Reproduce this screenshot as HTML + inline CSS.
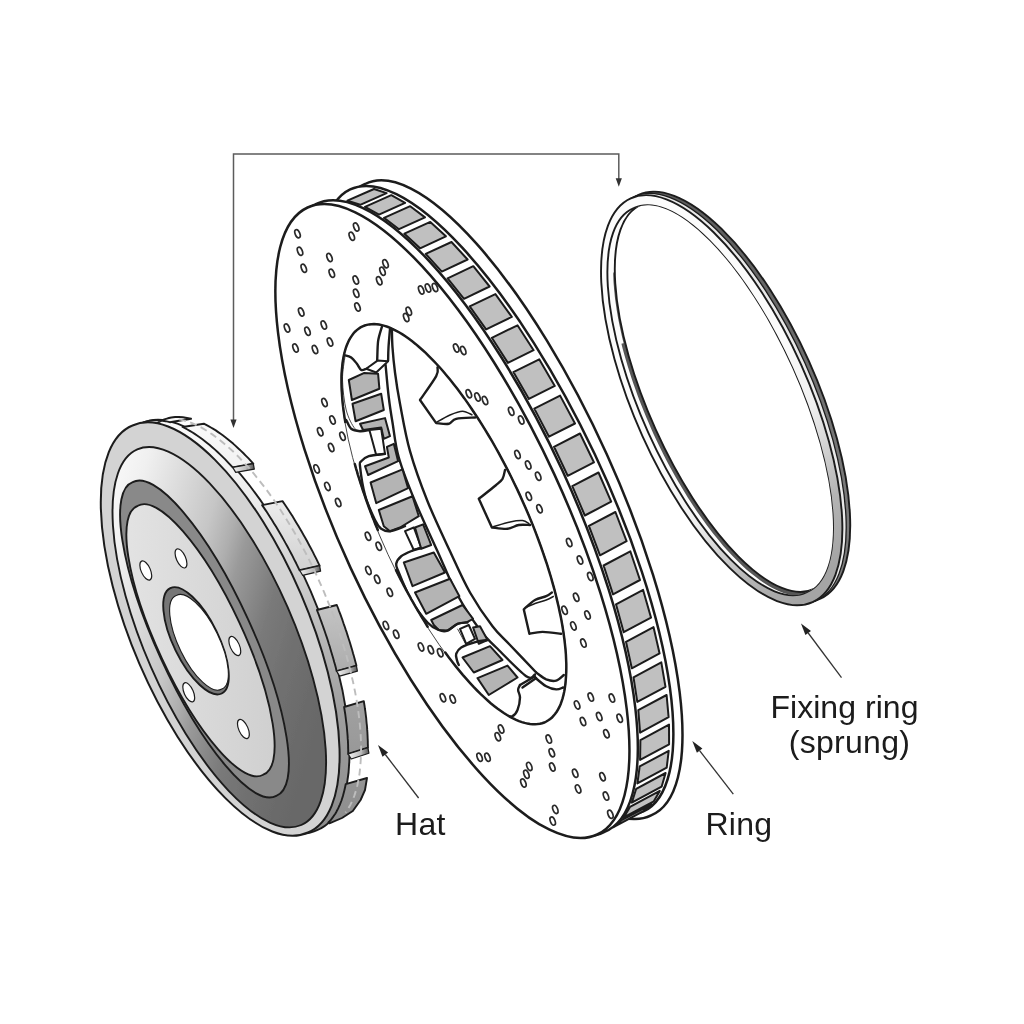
<!DOCTYPE html>
<html><head><meta charset="utf-8"><title>Brake disc assembly</title>
<style>
html,body{margin:0;padding:0;background:#fff;}
body{width:1024px;height:1024px;overflow:hidden;position:relative;font-family:"Liberation Sans",Arial,sans-serif;}
svg{position:absolute;left:0;top:0;display:block}
.lbl{font-family:"Liberation Sans",Arial,sans-serif;font-size:32px;letter-spacing:0.3px;fill:#1a1a1a}
</style></head><body>
<svg width="1024" height="1024" viewBox="0 0 1024 1024">
<defs>
<linearGradient id="cone" gradientUnits="userSpaceOnUse" x1="125" y1="460" x2="375" y2="535">
<stop offset="0" stop-color="#f6f6f6"/><stop offset="0.08" stop-color="#f0f0f0"/><stop offset="0.375" stop-color="#c6c6c6"/><stop offset="0.47" stop-color="#aeaeae"/><stop offset="0.53" stop-color="#9a9a9a"/><stop offset="0.69" stop-color="#7a7a7a"/><stop offset="0.82" stop-color="#707070"/><stop offset="1" stop-color="#686868"/></linearGradient>
<linearGradient id="face" gradientUnits="userSpaceOnUse" x1="130" y1="0" x2="280" y2="0">
<stop offset="0" stop-color="#e2e2e2"/><stop offset="1" stop-color="#cfcfcf"/></linearGradient>
<linearGradient id="rimside" gradientUnits="userSpaceOnUse" x1="0" y1="420" x2="0" y2="830">
<stop offset="0" stop-color="#fafafa"/><stop offset="0.2" stop-color="#ececec"/><stop offset="0.45" stop-color="#c4c4c4"/><stop offset="0.7" stop-color="#a0a0a0"/><stop offset="1" stop-color="#8c8c8c"/></linearGradient>
<linearGradient id="endf" gradientUnits="objectBoundingBox" x1="0" y1="0" x2="1" y2="0"><stop offset="0" stop-color="#f2f2f2"/><stop offset="0.6" stop-color="#bdbdbd"/><stop offset="1" stop-color="#555"/></linearGradient>
</defs>
<rect width="1024" height="1024" fill="#fff"/>
<filter id="soft" x="0" y="0" width="1024" height="1024" filterUnits="userSpaceOnUse"><feGaussianBlur stdDeviation="0.45"/></filter>
<g filter="url(#soft)">

<path d="M233.5,421 V154 H618.8 V180" fill="none" stroke="#5c5c5c" stroke-width="1.5"/>
<path d="M233.5,428 l-3.1,-8.5 h6.2z M618.8,186.8 l-3.1,-8.5 h6.2z" fill="#333"/>
<path d="M317.1,830.2 A221.6,87.3 66.7 1 1 141.8,423.2 A221.6,87.3 66.7 1 1 317.1,830.2Z" fill="url(#rimside)" stroke="#1c1c1c" stroke-width="1.9"/>
<path d="M113.2,468.8 L114.4,463.3 L115.7,458.2 L117.2,453.4 L118.9,448.8 L120.9,444.6 L123.0,440.7 L125.3,437.1 L127.7,433.9 L130.4,431.0 L133.2,428.4 L136.2,426.2 L139.4,424.3 L142.7,422.8 L146.2,421.6 L149.8,420.8 L153.5,420.4 L157.4,420.3 L161.4,420.5 L165.6,421.2 L169.8,422.2 L191.1,418.8 L186.9,417.9 L182.9,417.2 L178.9,417.0 L175.1,417.0 L171.3,417.5 L167.8,418.3 L164.3,419.4 L161.1,420.9 L157.9,422.8 L155.0,425.0 L152.2,427.5 L149.6,430.4 L147.1,433.6 L144.9,437.2 L142.8,441.0 L140.9,445.2 L139.2,449.7 L137.7,454.5 L136.3,459.6 L135.2,464.9Z" fill="url(#rimside)" stroke="#1c1c1c" stroke-width="1.9" stroke-linejoin="round"/>
<path d="M182.6,427.0 L185.0,428.2 L187.4,429.5 L189.8,430.9 L192.2,432.3 L194.7,433.9 L197.1,435.5 L199.6,437.2 L202.1,439.0 L204.6,440.9 L207.1,442.9 L209.7,445.0 L212.2,447.2 L214.7,449.4 L217.3,451.7 L219.8,454.1 L222.4,456.6 L225.0,459.2 L227.5,461.9 L230.1,464.6 L232.7,467.4 L253.3,463.7 L250.8,460.9 L248.3,458.2 L245.7,455.6 L243.2,453.0 L240.7,450.6 L238.1,448.2 L235.6,445.9 L233.1,443.6 L230.6,441.5 L228.1,439.4 L225.6,437.5 L223.1,435.6 L220.6,433.8 L218.2,432.1 L215.8,430.4 L213.3,428.9 L210.9,427.5 L208.5,426.1 L206.2,424.9 L203.8,423.7Z" fill="url(#rimside)" stroke="#1c1c1c" stroke-width="1.9" stroke-linejoin="round"/>
<path d="M253.3,463.7 L254.3,469.2 L235.7,472.4 L232.7,467.4Z" fill="url(#endf)" stroke="#1c1c1c" stroke-width="1.2" stroke-linejoin="round"/>
<path d="M262.1,505.1 L264.2,508.1 L266.2,511.1 L268.1,514.1 L270.1,517.2 L272.1,520.3 L274.0,523.4 L276.0,526.6 L277.9,529.8 L279.8,533.0 L281.7,536.3 L283.6,539.6 L285.4,542.9 L287.3,546.2 L289.1,549.6 L290.9,553.0 L292.7,556.4 L294.4,559.8 L296.2,563.3 L297.9,566.8 L299.6,570.3 L319.6,565.7 L317.9,562.2 L316.2,558.7 L314.5,555.3 L312.8,551.9 L311.0,548.5 L309.2,545.2 L307.4,541.8 L305.6,538.5 L303.7,535.2 L301.9,532.0 L300.0,528.7 L298.1,525.5 L296.2,522.4 L294.3,519.2 L292.4,516.1 L290.4,513.0 L288.5,510.0 L286.5,507.0 L284.5,504.0 L282.5,501.1Z" fill="url(#rimside)" stroke="#1c1c1c" stroke-width="1.9" stroke-linejoin="round"/>
<path d="M319.6,565.7 L320.6,571.2 L302.6,575.3 L299.6,570.3Z" fill="url(#endf)" stroke="#1c1c1c" stroke-width="1.2" stroke-linejoin="round"/>
<path d="M316.9,610.0 L318.1,613.0 L319.3,616.1 L320.4,619.2 L321.5,622.2 L322.6,625.3 L323.7,628.4 L324.8,631.5 L325.8,634.5 L326.9,637.6 L327.9,640.7 L328.8,643.8 L329.8,646.8 L330.7,649.9 L331.6,652.9 L332.5,656.0 L333.4,659.0 L334.2,662.1 L335.1,665.1 L335.9,668.1 L336.6,671.1 L356.4,665.6 L355.6,662.6 L354.8,659.6 L354.0,656.6 L353.1,653.6 L352.3,650.6 L351.4,647.6 L350.5,644.5 L349.6,641.5 L348.6,638.5 L347.6,635.4 L346.7,632.4 L345.6,629.4 L344.6,626.3 L343.5,623.3 L342.5,620.2 L341.4,617.2 L340.3,614.1 L339.1,611.1 L338.0,608.0 L336.8,605.0Z" fill="url(#rimside)" stroke="#1c1c1c" stroke-width="1.9" stroke-linejoin="round"/>
<path d="M356.4,665.6 L357.4,671.1 L339.6,676.1 L336.6,671.1Z" fill="url(#endf)" stroke="#1c1c1c" stroke-width="1.2" stroke-linejoin="round"/>
<path d="M344.1,707.0 L344.5,709.5 L344.9,712.0 L345.3,714.5 L345.6,716.9 L345.9,719.4 L346.2,721.8 L346.5,724.2 L346.8,726.6 L347.0,729.0 L347.2,731.4 L347.4,733.7 L347.6,736.1 L347.7,738.4 L347.9,740.7 L348.0,742.9 L348.1,745.2 L348.1,747.4 L348.2,749.6 L348.2,751.8 L348.2,754.0 L367.9,747.7 L367.9,745.5 L367.8,743.4 L367.8,741.2 L367.7,739.0 L367.6,736.7 L367.5,734.5 L367.4,732.2 L367.2,729.9 L367.1,727.6 L366.9,725.3 L366.6,723.0 L366.4,720.6 L366.2,718.2 L365.9,715.8 L365.6,713.4 L365.3,711.0 L364.9,708.5 L364.6,706.1 L364.2,703.6 L363.8,701.1Z" fill="url(#rimside)" stroke="#1c1c1c" stroke-width="1.9" stroke-linejoin="round"/>
<path d="M367.9,747.7 L368.9,753.2 L351.2,759.0 L348.2,754.0Z" fill="url(#endf)" stroke="#1c1c1c" stroke-width="1.2" stroke-linejoin="round"/>
<path d="M345.7,784.2 L345.2,786.7 L344.7,789.1 L344.1,791.5 L343.5,793.8 L342.9,796.1 L342.2,798.3 L341.5,800.5 L340.7,802.5 L339.9,804.6 L339.0,806.5 L338.2,808.4 L337.2,810.2 L336.3,812.0 L335.3,813.7 L334.2,815.3 L333.1,816.9 L332.0,818.4 L330.9,819.8 L329.7,821.1 L328.4,822.4 L329.4,823.4 L342.0,818.0 L352.8,811.0 L360.6,800.0 L365.0,790.0 L367.0,778.0Z" fill="url(#rimside)" stroke="#1c1c1c" stroke-width="1.9" stroke-linejoin="round"/>
<path d="M179.1,419.4 L183.5,420.3 L188.1,421.7 L192.7,423.4 L197.5,425.6 L202.4,428.1 L207.3,431.1 L212.3,434.4 L217.4,438.1 L222.5,442.2 L227.7,446.6 L232.9,451.3 L238.1,456.4 L243.3,461.9 L248.6,467.6 L253.8,473.7 L259.0,480.1 L264.2,486.7 L269.3,493.6 L274.4,500.8 L279.4,508.2 L284.3,515.8 L289.2,523.7 L294.0,531.7 L298.7,540.0 L303.2,548.4 L307.7,556.9 L312.0,565.6 L316.2,574.4 L320.2,583.3 L324.1,592.2 L327.8,601.3 L331.4,610.3 L334.8,619.4 L338.0,628.5 L341.0,637.6 L343.8,646.7 L346.5,655.7 L348.9,664.7 L351.1,673.5 L353.1,682.3 L354.9,691.0 L356.5,699.5 L357.8,707.8 L358.9,716.0 L359.8,724.1 L360.5,731.9 L360.9,739.5 L361.1,746.9 L361.0,754.0 L360.7,760.8 L360.2,767.4 L359.5,773.8 L358.5,779.8 L357.3,785.5 L355.9,790.8 L354.3,795.9 L352.4,800.6 L350.3,805.0 L348.0,809.0 L345.5,812.6" fill="none" stroke="#bdbdbd" stroke-width="1.9" stroke-dasharray="7 4.5"/>
<path d="M307.9,832.5 A221.6,87.3 66.7 1 1 132.5,425.5 A221.6,87.3 66.7 1 1 307.9,832.5Z" fill="#d3d3d3" stroke="#1c1c1c" stroke-width="2.0"/>
<path d="M301.3,825.0 A204.9,74.6 66.4 1 1 137.3,449.4 A204.9,74.6 66.4 1 1 301.3,825.0Z" fill="url(#cone)" stroke="#1c1c1c" stroke-width="1.9"/>
<path d="M276.3,795.8 A172.5,46.8 65.4 1 1 132.7,482.2 A172.5,46.8 65.4 1 1 276.3,795.8Z" fill="#898989" stroke="#1c1c1c" stroke-width="1.9"/>
<path d="M263.2,774.7 A148.4,41.6 65 1 1 137.8,505.8 A148.4,41.6 65 1 1 263.2,774.7Z" fill="url(#face)" stroke="#1c1c1c" stroke-width="1.9"/>
<path d="M221.7,693.5 A58.6,22.6 64 1 1 170.3,588.1 A58.6,22.6 64 1 1 221.7,693.5Z" fill="#767676" stroke="#1c1c1c" stroke-width="1.9"/>
<path d="M221.8,689.0 A52.0,19.5 64 1 1 176.2,595.6 A52.0,19.5 64 1 1 221.8,689.0Z" fill="#fff" stroke="#1c1c1c" stroke-width="1.1"/>
<ellipse cx="145.8" cy="570.5" rx="10.3" ry="4.6" transform="rotate(66 145.8 570.5)" fill="#fff" stroke="#1c1c1c" stroke-width="1.2"/>
<ellipse cx="181" cy="558.4" rx="10.3" ry="4.6" transform="rotate(66 181 558.4)" fill="#fff" stroke="#1c1c1c" stroke-width="1.2"/>
<ellipse cx="234.8" cy="646" rx="10.3" ry="4.6" transform="rotate(66 234.8 646)" fill="#fff" stroke="#1c1c1c" stroke-width="1.2"/>
<ellipse cx="188.75" cy="692.3" rx="10.3" ry="4.6" transform="rotate(66 188.75 692.3)" fill="#fff" stroke="#1c1c1c" stroke-width="1.2"/>
<ellipse cx="243.4" cy="729" rx="10.3" ry="4.6" transform="rotate(66 243.4 729)" fill="#fff" stroke="#1c1c1c" stroke-width="1.2"/>
<path d="M651.1,815.4 A346.6,107.4 65.64 1 1 365.1,184.0 A346.6,107.4 65.64 1 1 651.1,815.4Z" fill="#fff" stroke="#1c1c1c" stroke-width="2.5"/>
<path d="M643.8,811.2 A343.8,108.0 64.73 1 1 350.2,189.4 A343.8,108.0 64.73 1 1 643.8,811.2Z" fill="#fff" stroke="#1c1c1c" stroke-width="2.5"/>
<path d="M347.4,200.7 L374.0,189.0 L386.6,193.1 L360.2,204.8Z M365.0,206.8 L391.3,195.2 L405.1,202.9 L379.0,214.6Z M384.0,217.9 L410.2,206.2 L425.0,217.4 L399.0,229.2Z M404.4,233.7 L430.3,221.9 L445.9,236.3 L420.1,248.3Z M425.7,253.9 L451.5,242.0 L467.6,259.5 L441.8,271.6Z M447.6,278.3 L473.3,266.2 L489.6,286.5 L464.0,298.8Z M469.7,306.4 L495.4,294.1 L511.8,316.9 L486.1,329.4Z M491.8,337.8 L517.5,325.3 L533.6,350.2 L507.9,362.9Z M513.4,372.1 L539.2,359.3 L554.8,385.9 L528.9,398.9Z M534.3,408.6 L560.1,395.6 L575.0,423.5 L549.0,436.7Z M554.0,446.8 L580.0,433.5 L593.9,462.3 L567.7,475.8Z M572.3,486.1 L598.5,472.5 L611.2,501.7 L584.8,515.5Z M588.9,525.9 L615.4,512.0 L626.6,541.2 L600.0,555.3Z M603.6,565.5 L630.3,551.3 L640.0,580.0 L613.0,594.4Z M616.0,604.3 L643.1,589.9 L651.0,617.6 L623.7,632.2Z M626.0,641.8 L653.5,627.1 L659.6,653.4 L631.8,668.3Z M633.5,677.3 L661.3,662.3 L665.5,686.8 L637.3,701.9Z M638.3,710.2 L666.6,695.0 L668.6,717.2 L640.1,732.6Z M640.4,740.1 L669.0,724.6 L669.1,744.3 L640.1,759.9Z M639.7,766.4 L668.7,750.8 L666.7,767.6 L637.4,783.4Z M636.2,788.8 L665.6,773.0 L661.6,786.7 L631.8,802.6Z M630.0,806.9 L659.8,790.9 L653.8,801.3 L623.7,817.4Z M621.2,820.4 L651.4,804.4 L643.5,811.2 L613.0,827.3Z" fill="#c0c0c0" stroke="#1c1c1c" stroke-width="2.0" stroke-linejoin="round"/>
<path d="M604.5,831.9 A345.5,111.5 65.2594 1 1 315.3,204.4 A345.5,111.5 65.2594 1 1 604.5,831.9Z" fill="#fff" stroke="#1c1c1c" stroke-width="2.5"/>
<path d="M597.2,834.5 A345.3,112.1 65.2 1 1 307.6,207.5 A345.3,112.1 65.2 1 1 597.2,834.5Z" fill="#fff" stroke="#1c1c1c" stroke-width="2.5"/>
<ellipse cx="297.5" cy="233.8" rx="4.3" ry="2.3" transform="rotate(68 297.5 233.8)" fill="#fff" stroke="#2a2a2a" stroke-width="1.7"/>
<ellipse cx="300.0" cy="251.2" rx="4.3" ry="2.3" transform="rotate(68 300.0 251.2)" fill="#fff" stroke="#2a2a2a" stroke-width="1.7"/>
<ellipse cx="303.8" cy="268.2" rx="4.3" ry="2.3" transform="rotate(68 303.8 268.2)" fill="#fff" stroke="#2a2a2a" stroke-width="1.7"/>
<ellipse cx="329.5" cy="257.5" rx="4.3" ry="2.3" transform="rotate(68 329.5 257.5)" fill="#fff" stroke="#2a2a2a" stroke-width="1.7"/>
<ellipse cx="331.8" cy="273.2" rx="4.3" ry="2.3" transform="rotate(68 331.8 273.2)" fill="#fff" stroke="#2a2a2a" stroke-width="1.7"/>
<ellipse cx="356.2" cy="227.0" rx="4.3" ry="2.3" transform="rotate(68 356.2 227.0)" fill="#fff" stroke="#2a2a2a" stroke-width="1.7"/>
<ellipse cx="351.8" cy="236.2" rx="4.3" ry="2.3" transform="rotate(68 351.8 236.2)" fill="#fff" stroke="#2a2a2a" stroke-width="1.7"/>
<ellipse cx="355.8" cy="280.0" rx="4.3" ry="2.3" transform="rotate(68 355.8 280.0)" fill="#fff" stroke="#2a2a2a" stroke-width="1.7"/>
<ellipse cx="356.2" cy="293.2" rx="4.3" ry="2.3" transform="rotate(68 356.2 293.2)" fill="#fff" stroke="#2a2a2a" stroke-width="1.7"/>
<ellipse cx="357.5" cy="307.0" rx="4.3" ry="2.3" transform="rotate(68 357.5 307.0)" fill="#fff" stroke="#2a2a2a" stroke-width="1.7"/>
<ellipse cx="385.5" cy="263.8" rx="4.3" ry="2.3" transform="rotate(68 385.5 263.8)" fill="#fff" stroke="#2a2a2a" stroke-width="1.7"/>
<ellipse cx="382.5" cy="271.2" rx="4.3" ry="2.3" transform="rotate(68 382.5 271.2)" fill="#fff" stroke="#2a2a2a" stroke-width="1.7"/>
<ellipse cx="379.2" cy="280.8" rx="4.3" ry="2.3" transform="rotate(68 379.2 280.8)" fill="#fff" stroke="#2a2a2a" stroke-width="1.7"/>
<ellipse cx="421.2" cy="290.0" rx="4.3" ry="2.3" transform="rotate(68 421.2 290.0)" fill="#fff" stroke="#2a2a2a" stroke-width="1.7"/>
<ellipse cx="428.0" cy="288.0" rx="4.3" ry="2.3" transform="rotate(68 428.0 288.0)" fill="#fff" stroke="#2a2a2a" stroke-width="1.7"/>
<ellipse cx="435.0" cy="287.5" rx="4.3" ry="2.3" transform="rotate(68 435.0 287.5)" fill="#fff" stroke="#2a2a2a" stroke-width="1.7"/>
<ellipse cx="408.8" cy="311.2" rx="4.3" ry="2.3" transform="rotate(68 408.8 311.2)" fill="#fff" stroke="#2a2a2a" stroke-width="1.7"/>
<ellipse cx="406.2" cy="317.5" rx="4.3" ry="2.3" transform="rotate(68 406.2 317.5)" fill="#fff" stroke="#2a2a2a" stroke-width="1.7"/>
<ellipse cx="301.2" cy="312.0" rx="4.3" ry="2.3" transform="rotate(68 301.2 312.0)" fill="#fff" stroke="#2a2a2a" stroke-width="1.7"/>
<ellipse cx="287.0" cy="328.0" rx="4.3" ry="2.3" transform="rotate(68 287.0 328.0)" fill="#fff" stroke="#2a2a2a" stroke-width="1.7"/>
<ellipse cx="307.5" cy="331.2" rx="4.3" ry="2.3" transform="rotate(68 307.5 331.2)" fill="#fff" stroke="#2a2a2a" stroke-width="1.7"/>
<ellipse cx="323.8" cy="325.0" rx="4.3" ry="2.3" transform="rotate(68 323.8 325.0)" fill="#fff" stroke="#2a2a2a" stroke-width="1.7"/>
<ellipse cx="295.5" cy="348.0" rx="4.3" ry="2.3" transform="rotate(68 295.5 348.0)" fill="#fff" stroke="#2a2a2a" stroke-width="1.7"/>
<ellipse cx="315.0" cy="349.5" rx="4.3" ry="2.3" transform="rotate(68 315.0 349.5)" fill="#fff" stroke="#2a2a2a" stroke-width="1.7"/>
<ellipse cx="330.0" cy="342.0" rx="4.3" ry="2.3" transform="rotate(68 330.0 342.0)" fill="#fff" stroke="#2a2a2a" stroke-width="1.7"/>
<ellipse cx="456.2" cy="348.0" rx="4.3" ry="2.3" transform="rotate(68 456.2 348.0)" fill="#fff" stroke="#2a2a2a" stroke-width="1.7"/>
<ellipse cx="463.2" cy="350.5" rx="4.3" ry="2.3" transform="rotate(68 463.2 350.5)" fill="#fff" stroke="#2a2a2a" stroke-width="1.7"/>
<ellipse cx="468.8" cy="393.8" rx="4.3" ry="2.3" transform="rotate(68 468.8 393.8)" fill="#fff" stroke="#2a2a2a" stroke-width="1.7"/>
<ellipse cx="477.5" cy="397.0" rx="4.3" ry="2.3" transform="rotate(68 477.5 397.0)" fill="#fff" stroke="#2a2a2a" stroke-width="1.7"/>
<ellipse cx="485.0" cy="400.5" rx="4.3" ry="2.3" transform="rotate(68 485.0 400.5)" fill="#fff" stroke="#2a2a2a" stroke-width="1.7"/>
<ellipse cx="511.2" cy="411.2" rx="4.3" ry="2.3" transform="rotate(68 511.2 411.2)" fill="#fff" stroke="#2a2a2a" stroke-width="1.7"/>
<ellipse cx="521.2" cy="420.0" rx="4.3" ry="2.3" transform="rotate(68 521.2 420.0)" fill="#fff" stroke="#2a2a2a" stroke-width="1.7"/>
<ellipse cx="324.5" cy="402.5" rx="4.3" ry="2.3" transform="rotate(68 324.5 402.5)" fill="#fff" stroke="#2a2a2a" stroke-width="1.7"/>
<ellipse cx="332.5" cy="420.0" rx="4.3" ry="2.3" transform="rotate(68 332.5 420.0)" fill="#fff" stroke="#2a2a2a" stroke-width="1.7"/>
<ellipse cx="517.5" cy="454.5" rx="4.3" ry="2.3" transform="rotate(68 517.5 454.5)" fill="#fff" stroke="#2a2a2a" stroke-width="1.7"/>
<ellipse cx="528.2" cy="465.0" rx="4.3" ry="2.3" transform="rotate(68 528.2 465.0)" fill="#fff" stroke="#2a2a2a" stroke-width="1.7"/>
<ellipse cx="538.2" cy="476.2" rx="4.3" ry="2.3" transform="rotate(68 538.2 476.2)" fill="#fff" stroke="#2a2a2a" stroke-width="1.7"/>
<ellipse cx="528.8" cy="496.2" rx="4.3" ry="2.3" transform="rotate(68 528.8 496.2)" fill="#fff" stroke="#2a2a2a" stroke-width="1.7"/>
<ellipse cx="539.5" cy="508.8" rx="4.3" ry="2.3" transform="rotate(68 539.5 508.8)" fill="#fff" stroke="#2a2a2a" stroke-width="1.7"/>
<ellipse cx="569.2" cy="542.5" rx="4.3" ry="2.3" transform="rotate(68 569.2 542.5)" fill="#fff" stroke="#2a2a2a" stroke-width="1.7"/>
<ellipse cx="580.0" cy="560.0" rx="4.3" ry="2.3" transform="rotate(68 580.0 560.0)" fill="#fff" stroke="#2a2a2a" stroke-width="1.7"/>
<ellipse cx="342.5" cy="436.2" rx="4.3" ry="2.3" transform="rotate(68 342.5 436.2)" fill="#fff" stroke="#2a2a2a" stroke-width="1.7"/>
<ellipse cx="331.2" cy="447.5" rx="4.3" ry="2.3" transform="rotate(68 331.2 447.5)" fill="#fff" stroke="#2a2a2a" stroke-width="1.7"/>
<ellipse cx="338.2" cy="502.5" rx="4.3" ry="2.3" transform="rotate(68 338.2 502.5)" fill="#fff" stroke="#2a2a2a" stroke-width="1.7"/>
<ellipse cx="368.0" cy="536.2" rx="4.3" ry="2.3" transform="rotate(68 368.0 536.2)" fill="#fff" stroke="#2a2a2a" stroke-width="1.7"/>
<ellipse cx="378.8" cy="546.2" rx="4.3" ry="2.3" transform="rotate(68 378.8 546.2)" fill="#fff" stroke="#2a2a2a" stroke-width="1.7"/>
<ellipse cx="320.2" cy="431.8" rx="4.3" ry="2.3" transform="rotate(68 320.2 431.8)" fill="#fff" stroke="#2a2a2a" stroke-width="1.7"/>
<ellipse cx="316.6" cy="468.9" rx="4.3" ry="2.3" transform="rotate(68 316.6 468.9)" fill="#fff" stroke="#2a2a2a" stroke-width="1.7"/>
<ellipse cx="327.4" cy="486.4" rx="4.3" ry="2.3" transform="rotate(68 327.4 486.4)" fill="#fff" stroke="#2a2a2a" stroke-width="1.7"/>
<ellipse cx="368.4" cy="570.4" rx="4.3" ry="2.3" transform="rotate(68 368.4 570.4)" fill="#fff" stroke="#2a2a2a" stroke-width="1.7"/>
<ellipse cx="377.2" cy="579.2" rx="4.3" ry="2.3" transform="rotate(68 377.2 579.2)" fill="#fff" stroke="#2a2a2a" stroke-width="1.7"/>
<ellipse cx="389.8" cy="592.2" rx="4.3" ry="2.3" transform="rotate(68 389.8 592.2)" fill="#fff" stroke="#2a2a2a" stroke-width="1.7"/>
<ellipse cx="385.9" cy="625.4" rx="4.3" ry="2.3" transform="rotate(68 385.9 625.4)" fill="#fff" stroke="#2a2a2a" stroke-width="1.7"/>
<ellipse cx="396.2" cy="634.2" rx="4.3" ry="2.3" transform="rotate(68 396.2 634.2)" fill="#fff" stroke="#2a2a2a" stroke-width="1.7"/>
<ellipse cx="421.0" cy="646.9" rx="4.3" ry="2.3" transform="rotate(68 421.0 646.9)" fill="#fff" stroke="#2a2a2a" stroke-width="1.7"/>
<ellipse cx="430.8" cy="649.8" rx="4.3" ry="2.3" transform="rotate(68 430.8 649.8)" fill="#fff" stroke="#2a2a2a" stroke-width="1.7"/>
<ellipse cx="440.2" cy="652.8" rx="4.3" ry="2.3" transform="rotate(68 440.2 652.8)" fill="#fff" stroke="#2a2a2a" stroke-width="1.7"/>
<ellipse cx="442.9" cy="697.7" rx="4.3" ry="2.3" transform="rotate(68 442.9 697.7)" fill="#fff" stroke="#2a2a2a" stroke-width="1.7"/>
<ellipse cx="452.7" cy="699.0" rx="4.3" ry="2.3" transform="rotate(68 452.7 699.0)" fill="#fff" stroke="#2a2a2a" stroke-width="1.7"/>
<ellipse cx="501.1" cy="729.0" rx="4.3" ry="2.3" transform="rotate(68 501.1 729.0)" fill="#fff" stroke="#2a2a2a" stroke-width="1.7"/>
<ellipse cx="497.8" cy="736.8" rx="4.3" ry="2.3" transform="rotate(68 497.8 736.8)" fill="#fff" stroke="#2a2a2a" stroke-width="1.7"/>
<ellipse cx="479.6" cy="757.3" rx="4.3" ry="2.3" transform="rotate(68 479.6 757.3)" fill="#fff" stroke="#2a2a2a" stroke-width="1.7"/>
<ellipse cx="487.5" cy="757.3" rx="4.3" ry="2.3" transform="rotate(68 487.5 757.3)" fill="#fff" stroke="#2a2a2a" stroke-width="1.7"/>
<ellipse cx="577.1" cy="704.9" rx="4.3" ry="2.3" transform="rotate(68 577.1 704.9)" fill="#fff" stroke="#2a2a2a" stroke-width="1.7"/>
<ellipse cx="590.8" cy="697.1" rx="4.3" ry="2.3" transform="rotate(68 590.8 697.1)" fill="#fff" stroke="#2a2a2a" stroke-width="1.7"/>
<ellipse cx="611.9" cy="698.1" rx="4.3" ry="2.3" transform="rotate(68 611.9 698.1)" fill="#fff" stroke="#2a2a2a" stroke-width="1.7"/>
<ellipse cx="583.0" cy="721.5" rx="4.3" ry="2.3" transform="rotate(68 583.0 721.5)" fill="#fff" stroke="#2a2a2a" stroke-width="1.7"/>
<ellipse cx="599.2" cy="716.6" rx="4.3" ry="2.3" transform="rotate(68 599.2 716.6)" fill="#fff" stroke="#2a2a2a" stroke-width="1.7"/>
<ellipse cx="619.7" cy="718.2" rx="4.3" ry="2.3" transform="rotate(68 619.7 718.2)" fill="#fff" stroke="#2a2a2a" stroke-width="1.7"/>
<ellipse cx="606.4" cy="733.8" rx="4.3" ry="2.3" transform="rotate(68 606.4 733.8)" fill="#fff" stroke="#2a2a2a" stroke-width="1.7"/>
<ellipse cx="548.8" cy="739.1" rx="4.3" ry="2.3" transform="rotate(68 548.8 739.1)" fill="#fff" stroke="#2a2a2a" stroke-width="1.7"/>
<ellipse cx="551.8" cy="752.8" rx="4.3" ry="2.3" transform="rotate(68 551.8 752.8)" fill="#fff" stroke="#2a2a2a" stroke-width="1.7"/>
<ellipse cx="552.3" cy="767.0" rx="4.3" ry="2.3" transform="rotate(68 552.3 767.0)" fill="#fff" stroke="#2a2a2a" stroke-width="1.7"/>
<ellipse cx="529.3" cy="766.4" rx="4.3" ry="2.3" transform="rotate(68 529.3 766.4)" fill="#fff" stroke="#2a2a2a" stroke-width="1.7"/>
<ellipse cx="526.4" cy="774.2" rx="4.3" ry="2.3" transform="rotate(68 526.4 774.2)" fill="#fff" stroke="#2a2a2a" stroke-width="1.7"/>
<ellipse cx="523.4" cy="783.0" rx="4.3" ry="2.3" transform="rotate(68 523.4 783.0)" fill="#fff" stroke="#2a2a2a" stroke-width="1.7"/>
<ellipse cx="575.2" cy="773.3" rx="4.3" ry="2.3" transform="rotate(68 575.2 773.3)" fill="#fff" stroke="#2a2a2a" stroke-width="1.7"/>
<ellipse cx="578.1" cy="788.9" rx="4.3" ry="2.3" transform="rotate(68 578.1 788.9)" fill="#fff" stroke="#2a2a2a" stroke-width="1.7"/>
<ellipse cx="602.5" cy="776.8" rx="4.3" ry="2.3" transform="rotate(68 602.5 776.8)" fill="#fff" stroke="#2a2a2a" stroke-width="1.7"/>
<ellipse cx="606.0" cy="796.1" rx="4.3" ry="2.3" transform="rotate(68 606.0 796.1)" fill="#fff" stroke="#2a2a2a" stroke-width="1.7"/>
<ellipse cx="610.4" cy="814.3" rx="4.3" ry="2.3" transform="rotate(68 610.4 814.3)" fill="#fff" stroke="#2a2a2a" stroke-width="1.7"/>
<ellipse cx="555.3" cy="809.4" rx="4.3" ry="2.3" transform="rotate(68 555.3 809.4)" fill="#fff" stroke="#2a2a2a" stroke-width="1.7"/>
<ellipse cx="552.7" cy="821.1" rx="4.3" ry="2.3" transform="rotate(68 552.7 821.1)" fill="#fff" stroke="#2a2a2a" stroke-width="1.7"/>
<ellipse cx="590.3" cy="576.6" rx="4.3" ry="2.3" transform="rotate(68 590.3 576.6)" fill="#fff" stroke="#2a2a2a" stroke-width="1.7"/>
<ellipse cx="576.2" cy="597.2" rx="4.3" ry="2.3" transform="rotate(68 576.2 597.2)" fill="#fff" stroke="#2a2a2a" stroke-width="1.7"/>
<ellipse cx="564.6" cy="610.3" rx="4.3" ry="2.3" transform="rotate(68 564.6 610.3)" fill="#fff" stroke="#2a2a2a" stroke-width="1.7"/>
<ellipse cx="587.5" cy="615.0" rx="4.3" ry="2.3" transform="rotate(68 587.5 615.0)" fill="#fff" stroke="#2a2a2a" stroke-width="1.7"/>
<ellipse cx="573.4" cy="625.9" rx="4.3" ry="2.3" transform="rotate(68 573.4 625.9)" fill="#fff" stroke="#2a2a2a" stroke-width="1.7"/>
<ellipse cx="583.4" cy="643.1" rx="4.3" ry="2.3" transform="rotate(68 583.4 643.1)" fill="#fff" stroke="#2a2a2a" stroke-width="1.7"/>
<defs><clipPath id="cDh"><path d="M545.3,722.0 A217.9,72.1 65.2 1 1 362.5,326.4 A217.9,72.1 65.2 1 1 545.3,722.0Z"/></clipPath></defs>
<path d="M545.3,722.0 A217.9,72.1 65.2 1 1 362.5,326.4 A217.9,72.1 65.2 1 1 545.3,722.0Z" fill="#fff" stroke="none"/>
<g clip-path="url(#cDh)">
<path d="M385.6,365.0 C386.1,370.4 387.6,387.9 388.8,397.5 C389.9,407.1 390.8,412.5 392.5,422.5 C394.2,432.5 395.0,444.4 398.8,457.5 C402.5,470.6 408.5,485.6 415.0,501.2 C421.5,516.9 430.4,535.6 437.5,551.2 C444.6,566.9 450.4,581.9 457.5,595.0 C464.6,608.1 473.5,621.2 480.0,630.0 C486.5,638.8 488.5,639.8 496.2,647.5 C504.0,655.2 519.8,671.8 526.2,676.2 C532.7,680.7 533.5,674.7 535.0,674.4" fill="none" stroke="#1c1c1c" stroke-width="2.4" stroke-linecap="round" stroke-linejoin="round"/>
<path d="M391.9,330.0 C392.0,332.9 392.0,340.4 392.5,347.5 C393.0,354.6 393.8,363.1 395.0,372.5 C396.2,381.9 397.5,390.6 400.0,403.8 C402.5,416.9 405.4,435.0 410.0,451.2 C414.6,467.5 420.8,484.6 427.5,501.2 C434.2,517.9 442.9,536.0 450.0,551.2 C457.1,566.5 462.9,580.0 470.0,592.5 C477.1,605.0 485.8,617.5 492.5,626.2 C499.2,635.0 502.7,637.3 510.0,645.0 C517.3,652.7 531.9,667.9 536.2,672.5" fill="none" stroke="#1c1c1c" stroke-width="2.4" stroke-linecap="round" stroke-linejoin="round"/>
<path d="M536.2,672.5 C537.9,673.6 542.9,678.0 546.2,679.4 C549.6,680.7 553.3,681.4 556.2,680.6 C559.2,679.9 562.5,675.9 563.8,675.0" fill="none" stroke="#1c1c1c" stroke-width="2.4" stroke-linecap="round" stroke-linejoin="round"/>
<path d="M535.0,677.5 C536.9,679.0 542.7,684.3 546.2,686.2 C549.8,688.2 553.4,689.2 556.2,689.4 C559.1,689.6 562.0,687.8 563.1,687.5" fill="none" stroke="#1c1c1c" stroke-width="2.4" stroke-linecap="round" stroke-linejoin="round"/>
<path d="M520.0,685.0 L535.0,676.2" fill="none" stroke="#1c1c1c" stroke-width="2.4" stroke-linecap="round" stroke-linejoin="round"/>
<path d="M522.5,687.5 L536.2,678.1" fill="none" stroke="#1c1c1c" stroke-width="2.4" stroke-linecap="round" stroke-linejoin="round"/>
<path d="M381.9,326.9 C381.2,329.3 378.9,335.7 378.1,341.2 C377.4,346.8 377.4,356.9 377.2,360.0" fill="none" stroke="#1c1c1c" stroke-width="2.4" stroke-linecap="round" stroke-linejoin="round"/>
<path d="M390.0,328.8 C389.8,331.9 388.8,342.2 388.5,347.5 C388.2,352.8 388.2,358.4 388.1,360.6" fill="none" stroke="#1c1c1c" stroke-width="2.4" stroke-linecap="round" stroke-linejoin="round"/>
<path d="M366.2,368.8 L377.5,360.6 L388.1,361.2 L376.2,372.5Z" fill="#fff" stroke="#1c1c1c" stroke-width="2.0" stroke-linejoin="round"/>
<path d="M348.8,380.0 L363.8,373.1 L378.1,373.8 L379.4,388.8 L351.9,400.0Z" fill="#b4b4b4" stroke="#1c1c1c" stroke-width="2.0" stroke-linejoin="round"/>
<path d="M352.5,403.8 L381.2,393.8 L383.8,410.0 L355.6,421.2Z" fill="#b4b4b4" stroke="#1c1c1c" stroke-width="2.0" stroke-linejoin="round"/>
<path d="M360.0,423.8 L385.0,418.1 L390.0,436.2 L383.8,438.8 L381.2,427.5 L363.1,430.0Z" fill="#b4b4b4" stroke="#1c1c1c" stroke-width="2.0" stroke-linejoin="round"/>
<path d="M343.8,355.0 C345.0,355.4 349.1,356.0 351.2,357.5 C353.4,359.0 355.2,361.7 356.9,363.8 C358.5,365.8 359.7,369.2 361.2,370.0 C362.8,370.8 365.4,369.0 366.2,368.8" fill="none" stroke="#1c1c1c" stroke-width="2.4" stroke-linecap="round" stroke-linejoin="round"/>
<path d="M345.0,356.2 C344.6,360.2 342.3,371.0 342.5,380.0 C342.7,389.0 344.2,401.9 346.2,410.0 C348.3,418.1 352.3,425.4 355.0,428.8 C357.7,432.1 361.2,429.8 362.5,430.0" fill="none" stroke="#333" stroke-width="0.9"/>
<path d="M346.2,420.0 C347.1,421.5 349.0,426.9 351.2,428.8 C353.5,430.6 357.0,431.0 360.0,431.2 C363.0,431.5 367.8,430.2 369.4,430.0" fill="none" stroke="#1c1c1c" stroke-width="2.4" stroke-linecap="round" stroke-linejoin="round"/>
<path d="M369.4,430.0 L381.2,428.8 L385.0,453.8 L376.2,455.0Z" fill="#fff" stroke="#1c1c1c" stroke-width="2.0" stroke-linejoin="round"/>
<path d="M386.9,446.9 L393.8,443.8 L398.1,461.2 L368.1,475.0 L365.0,466.2 L388.8,457.5Z" fill="#b4b4b4" stroke="#1c1c1c" stroke-width="2.0" stroke-linejoin="round"/>
<path d="M370.6,482.5 L402.5,469.4 L408.1,488.1 L376.2,503.1Z" fill="#b4b4b4" stroke="#1c1c1c" stroke-width="2.0" stroke-linejoin="round"/>
<path d="M378.8,510.0 L412.5,496.2 L418.8,516.2 L400.0,527.5 L390.0,531.2 L383.8,526.2Z" fill="#b4b4b4" stroke="#1c1c1c" stroke-width="2.0" stroke-linejoin="round"/>
<path d="M385.0,453.8 C382.3,454.2 372.7,455.0 368.8,456.2 C364.8,457.5 362.7,459.6 361.2,461.2 C359.8,462.9 359.4,460.6 360.0,466.2 C360.6,471.9 362.5,486.0 365.0,495.0 C367.5,504.0 372.3,514.4 375.0,520.0 C377.7,525.6 378.8,526.9 381.2,528.8 C383.8,530.6 386.0,531.7 390.0,531.2 C394.0,530.8 402.5,527.1 405.0,526.2" fill="none" stroke="#1c1c1c" stroke-width="2.4" stroke-linecap="round" stroke-linejoin="round"/>
<path d="M405.0,531.2 L413.8,527.5 L421.2,547.5 L413.8,550.0Z" fill="#fff" stroke="#1c1c1c" stroke-width="2.0" stroke-linejoin="round"/>
<path d="M415.0,527.5 L423.1,524.4 L431.2,545.0 L421.2,548.8Z" fill="#b4b4b4" stroke="#1c1c1c" stroke-width="2.0" stroke-linejoin="round"/>
<path d="M403.8,562.5 L433.8,552.5 L445.0,572.5 L412.5,586.2Z" fill="#b4b4b4" stroke="#1c1c1c" stroke-width="2.0" stroke-linejoin="round"/>
<path d="M415.0,592.5 L450.0,578.8 L459.4,596.2 L426.2,613.8Z" fill="#b4b4b4" stroke="#1c1c1c" stroke-width="2.0" stroke-linejoin="round"/>
<path d="M431.2,620.0 L462.5,605.0 L473.1,618.8 L467.5,621.9 L457.5,623.8 L447.5,630.6 L438.8,630.0 L433.8,625.0Z" fill="#b4b4b4" stroke="#1c1c1c" stroke-width="2.0" stroke-linejoin="round"/>
<path d="M421.2,548.1 C419.8,548.5 415.8,549.3 412.5,550.6 C409.2,552.0 404.0,554.1 401.2,556.2 C398.5,558.4 396.7,561.0 396.2,563.8 C395.8,566.5 396.2,566.5 398.8,572.5 C401.2,578.5 406.5,591.7 411.2,600.0 C416.0,608.3 422.9,617.5 427.5,622.5 C432.1,627.5 435.4,628.6 438.8,630.0 C442.1,631.4 444.4,631.7 447.5,630.6 C450.6,629.6 454.2,625.1 457.5,623.8 C460.8,622.4 465.8,622.7 467.5,622.5" fill="none" stroke="#1c1c1c" stroke-width="2.4" stroke-linecap="round" stroke-linejoin="round"/>
<path d="M457.5,628.8 L466.2,645.0" fill="none" stroke="#333" stroke-width="0.9"/>
<path d="M460.0,628.8 L468.8,625.0 L475.0,638.8 L466.2,643.8Z" fill="#fff" stroke="#1c1c1c" stroke-width="2.0" stroke-linejoin="round"/>
<path d="M473.1,627.5 L480.0,626.2 L487.5,640.0 L478.8,643.8Z" fill="#b4b4b4" stroke="#1c1c1c" stroke-width="2.0" stroke-linejoin="round"/>
<path d="M462.5,657.5 L490.0,646.2 L502.5,660.0 L473.8,672.5Z" fill="#b4b4b4" stroke="#1c1c1c" stroke-width="2.0" stroke-linejoin="round"/>
<path d="M477.5,678.1 L507.5,665.6 L517.5,677.5 L488.8,695.0Z" fill="#b4b4b4" stroke="#1c1c1c" stroke-width="2.0" stroke-linejoin="round"/>
<path d="M487.5,640.0 C485.6,640.3 480.6,640.6 476.2,641.9 C471.9,643.1 464.6,645.5 461.2,647.5 C457.9,649.5 457.0,651.7 456.2,653.8 C455.5,655.8 456.5,658.1 456.9,660.0 C457.3,661.9 458.4,664.2 458.8,665.0" fill="none" stroke="#1c1c1c" stroke-width="2.4" stroke-linecap="round" stroke-linejoin="round"/>
<path d="M520.0,685.0 C519.7,685.8 518.1,687.9 518.1,690.0 C518.1,692.1 520.1,694.2 520.0,697.5 C519.9,700.8 518.8,706.9 517.5,710.0 C516.2,713.1 514.4,715.3 512.5,716.2 C510.6,717.2 507.3,715.7 506.2,715.6" fill="none" stroke="#1c1c1c" stroke-width="2.4" stroke-linecap="round" stroke-linejoin="round"/>
<path d="M437.5,367.5 C437.3,369.0 439.2,370.8 436.2,376.2 C433.3,381.7 422.7,396.0 420.0,400.0 L436.2,423.1 C438.3,423.2 445.4,424.5 448.8,423.8 C452.1,423.0 451.9,419.8 456.2,418.8 C460.6,417.7 471.9,417.7 475.0,417.5" fill="none" stroke="#1c1c1c" stroke-width="2.4" stroke-linejoin="round" stroke-linecap="round"/>
<path d="M505.0,470.0 C504.6,471.5 504.0,476.2 502.5,478.8 C501.0,481.2 500.2,481.7 496.2,485.0 C492.3,488.3 481.7,496.5 478.8,498.8 L491.9,527.5 C494.5,527.7 503.0,529.2 507.5,528.8 C512.0,528.3 515.0,525.6 518.8,525.0 C522.5,524.4 528.1,525.0 530.0,525.0" fill="none" stroke="#1c1c1c" stroke-width="2.4" stroke-linejoin="round" stroke-linecap="round"/>
<path d="M551.9,592.5 C551.0,593.1 549.1,595.0 546.2,596.2 C543.4,597.5 538.8,597.8 535.0,600.0 C531.2,602.2 525.6,607.8 523.8,609.4 L529.4,633.8 C531.6,633.4 537.2,631.9 542.5,631.9 C547.8,631.9 558.1,633.4 561.2,633.8" fill="none" stroke="#1c1c1c" stroke-width="2.4" stroke-linejoin="round" stroke-linecap="round"/>
<path d="M436.2,422.5 C438.5,421.2 445.6,416.9 450.0,415.0 C454.4,413.1 458.8,411.2 462.5,411.2 C466.2,411.2 470.8,414.4 472.5,415.0" fill="none" stroke="#1c1c1c" stroke-width="1.5"/>
<path d="M492.5,526.9 C495.4,526.1 505.0,522.9 510.0,521.9 C515.0,520.9 519.3,520.3 522.5,520.6 C525.7,520.9 528.2,523.2 529.4,523.8" fill="none" stroke="#1c1c1c" stroke-width="1.5"/>
<path d="M525.0,608.0 C526.7,607.2 531.5,604.8 535.0,603.5 C538.5,602.2 543.1,601.2 546.2,600.0 C549.4,598.8 552.5,596.9 553.8,596.2" fill="none" stroke="#1c1c1c" stroke-width="1.5"/>
</g>
<path d="M545.3,722.0 A217.9,72.1 65.2 1 1 362.5,326.4 A217.9,72.1 65.2 1 1 545.3,722.0Z" fill="none" stroke="#333" stroke-width="0.9"/>
<path d="M345.3,422.0 L344.4,416.6 L343.7,411.3 L343.0,406.2 L342.5,401.1 L342.1,396.2 L341.8,391.4 L341.6,386.7 L341.5,382.2 L341.5,377.8 L341.6,373.6 L341.9,369.5 L342.3,365.6 L342.7,361.8 L343.3,358.2 L344.0,354.8 L344.8,351.5 L345.7,348.4 L346.7,345.5 L347.9,342.7 L349.1,340.1 L350.4,337.8 L351.9,335.6 L353.4,333.5 L355.0,331.7 L356.8,330.1 L358.6,328.7 L360.5,327.4 L362.6,326.4 L364.7,325.5 L366.9,324.9 L369.2,324.4 L371.5,324.2 L374.0,324.1 L376.5,324.2 L379.1,324.6 L381.8,325.1 L384.6,325.9 L387.4,326.8 L390.3,327.9 L393.3,329.3 L396.3,330.8 L399.4,332.5 L402.5,334.4 L405.7,336.5 L408.9,338.8 L412.2,341.3 L415.5,343.9 L418.8,346.8 L422.2,349.8 L425.7,352.9 L429.1,356.3 L432.6,359.8 L436.1,363.5 L439.6,367.3 L443.1,371.3 L446.6,375.5 L450.2,379.8 L453.7,384.2 L457.3,388.8 L460.8,393.5 L464.4,398.4 L467.9,403.4 L471.4,408.5 L474.9,413.7 L478.4,419.0 L481.8,424.4 L485.2,429.9 L488.6,435.5 L492.0,441.2 L495.3,447.0 L498.6,452.9 L501.8,458.8 L505.0,464.8 L508.1,470.9 L511.2,477.0 L514.2,483.2 L517.2,489.4 L520.1,495.6 L522.9,501.9 L525.7,508.2 L528.4,514.5 L531.0,520.8 L533.6,527.1 L536.0,533.4 L538.4,539.7 L540.7,546.0 L542.9,552.3 L545.0,558.5 L547.1,564.7 L549.0,570.9 L550.9,577.0 L552.6,583.1 L554.3,589.1 L555.8,595.0 L557.2,600.9 L558.6,606.7 L559.8,612.4 L561.0,618.0 L562.0,623.5 L562.9,629.0 L563.7,634.3 L564.4,639.5 L565.0,644.6 L565.5,649.6 L565.9,654.5 L566.1,659.2 L566.3,663.8 L566.3,668.2 L566.2,672.5 L566.0,676.7 L565.7,680.7 L565.3,684.6 L564.8,688.3 L564.2,691.8 L563.4,695.2 L562.6,698.4 L561.6,701.4 L560.6,704.2 L559.4,706.9 L558.1,709.4 L556.7,711.7 L555.2,713.8 L553.6,715.7 L552.0,717.5 L550.2,719.0 L548.3,720.3 L546.3,721.5 L544.3,722.5 L542.1,723.2 L539.9,723.8 L537.5,724.1 L535.1,724.3 L532.6,724.3 L530.1,724.0 L527.4,723.6 L524.7,722.9 L521.9,722.1 L519.0,721.1 L516.1,719.9 L513.1,718.4 L510.1,716.8 L507.0,715.0 L503.8,713.0 L500.6,710.8 L497.4,708.5 L494.1,705.9 L490.7,703.2 L487.4,700.3 L484.0,697.2 L480.5,693.9 L477.1,690.5 L473.6,686.9 L470.1,683.1 L466.6,679.2 L463.0,675.1 L459.5,670.9 L456.0,666.6 L452.4,662.0 L448.9,657.4 L445.3,652.6" fill="none" stroke="#1c1c1c" stroke-width="2.5" stroke-linecap="round"/>
<path d="M354.8,464.0 L355.4,466.2 L356.0,468.3 L356.7,470.5 L357.3,472.6 L357.9,474.8 L358.6,476.9 L359.3,479.1 L360.0,481.3 L360.7,483.5 L361.4,485.7 L362.1,487.8 L362.8,490.0 L363.5,492.2 L364.3,494.4 L365.1,496.7 L365.8,498.9 L366.6,501.1 L367.4,503.3 L368.2,505.5 L369.0,507.7 L369.9,510.0 L370.7,512.2 L371.6,514.4 L372.4,516.7 L373.3,518.9 L374.2,521.1 L375.0,523.3 L375.9,525.6 L376.9,527.8 L377.8,530.0" fill="none" stroke="#1c1c1c" stroke-width="2.5" stroke-linecap="round"/>
<path d="M396.0,570.2 L397.0,572.2 L398.0,574.1 L399.0,576.1 L400.0,578.1 L401.0,580.1 L402.0,582.0 L403.0,584.0 L404.0,585.9 L405.1,587.9 L406.1,589.8 L407.1,591.7 L408.2,593.6 L409.2,595.5 L410.3,597.4 L411.3,599.3 L412.4,601.2 L413.5,603.1 L414.6,605.0 L415.6,606.9 L416.7,608.7 L417.8,610.6 L418.9,612.4 L420.0,614.2 L421.1,616.0 L422.2,617.9 L423.3,619.7 L424.4,621.4 L425.5,623.2 L426.6,625.0 L427.7,626.8" fill="none" stroke="#1c1c1c" stroke-width="2.5" stroke-linecap="round"/>
<defs><linearGradient id="rf" gradientUnits="userSpaceOnUse" x1="560" y1="560" x2="700" y2="700"><stop offset="0" stop-color="#fbfbfb"/><stop offset="0.35" stop-color="#f0f0f0"/><stop offset="0.75" stop-color="#b4b4b4"/><stop offset="1" stop-color="#a4a4a4"/></linearGradient><linearGradient id="ro" gradientUnits="userSpaceOnUse" x1="650" y1="190" x2="850" y2="520"><stop offset="0" stop-color="#5a5a5a"/><stop offset="1" stop-color="#7c7c7c"/></linearGradient><clipPath id="cFi"><path d="M806.7,592.2 A210.6,78.0 65.75 1 1 633.7,208.2 A210.6,78.0 65.75 1 1 806.7,592.2Z"/></clipPath></defs>
<path d="M820.4,598.6 A221.4,87.0 65.75 1 1 638.6,194.8 A221.4,87.0 65.75 1 1 820.4,598.6Z" fill="url(#ro)" stroke="#1c1c1c" stroke-width="1.9"/>
<path d="M815.9,600.6 A221.4,87.0 65.75 1 1 634.0,196.9 A221.4,87.0 65.75 1 1 815.9,600.6Z" fill="#e9e9e9" stroke="#1c1c1c" stroke-width="1.3"/>
<path d="M812.6,602.1 A221.4,87.0 65.75 1 1 630.8,198.3 A221.4,87.0 65.75 1 1 812.6,602.1Z" fill="url(#rf)" stroke="#1c1c1c" stroke-width="1.9"/>
<path d="M806.7,592.2 A210.6,78.0 65.75 1 1 633.7,208.2 A210.6,78.0 65.75 1 1 806.7,592.2Z" fill="#fcfcfc" stroke="#1c1c1c" stroke-width="1.9"/>
<g clip-path="url(#cFi)"><path d="M831.3,570.8 L830.0,573.3 L828.6,575.6 L827.2,577.8 L825.7,579.8 L824.1,581.6 L822.4,583.3 L820.6,584.9 L818.7,586.3 L816.8,587.5 L814.8,588.6 L812.7,589.5 L810.6,590.2 L808.4,590.8 L806.1,591.2 L803.8,591.5 L801.3,591.5 L798.9,591.5 L796.3,591.2 L793.7,590.8 L791.1,590.3 L788.4,589.5 L785.7,588.7 L782.8,587.6 L780.0,586.4 L777.1,585.0 L774.2,583.5 L771.2,581.8 L768.2,580.0 L765.2,578.0 L762.1,575.8 L759.0,573.5 L755.9,571.1 L752.7,568.5 L749.5,565.8 L746.3,562.9 L743.1,559.9 L739.9,556.7 L736.7,553.4 L733.4,550.0 L730.2,546.5 L726.9,542.8 L723.7,539.0 L720.5,535.1 L717.2,531.1 L714.0,526.9 L710.8,522.7 L707.6,518.3 L704.4,513.8 L701.2,509.3 L698.1,504.6 L695.0,499.9 L691.9,495.1 L688.8,490.1 L685.8,485.1 L682.8,480.1 L679.8,474.9 L676.9,469.7 L674.0,464.5 L671.2,459.2 L668.4,453.8 L665.7,448.4 L663.0,442.9 L660.4,437.4 L657.8,431.9 L655.3,426.3 L652.9,420.7 L650.5,415.1 L648.2,409.5 L645.9,403.8 L643.7,398.2 L641.6,392.5 L639.6,386.9 L637.6,381.3 L635.7,375.7 L633.9,370.1 L632.2,364.5 L630.5,358.9 L628.9,353.4 L627.4,347.9 L626.0,342.5" fill="none" stroke="#565656" stroke-width="9.5" stroke-linecap="butt"/><path d="M626.0,342.5 L625.1,338.8 L624.2,335.1 L623.4,331.4 L622.6,327.7 L621.8,324.1 L621.1,320.5 L620.4,316.9 L619.8,313.4 L619.2,309.9 L618.7,306.4 L618.2,303.0 L617.7,299.6 L617.3,296.3 L617.0,293.0 L616.6,289.7 L616.4,286.5 L616.1,283.3 L615.9,280.1 L615.8,277.0 L615.7,274.0" fill="none" stroke="#565656" stroke-width="5" stroke-linecap="round"/><path d="M814.1,588.9 A210.6,78.0 65.75 1 1 641.1,204.9 A210.6,78.0 65.75 1 1 814.1,588.9Z" fill="#fff" stroke="#1c1c1c" stroke-width="1.9"/></g>
<text class="lbl" x="395" y="835">Hat</text>
<text class="lbl" x="705.4" y="835">Ring</text>
<text class="lbl" x="770.4" y="717.5" style="letter-spacing:0.05px">Fixing ring</text>
<text class="lbl" x="788.7" y="753">(sprung)</text>
<path d="M841.5,677.6 L808.2,633.0" stroke="#333" stroke-width="1.3" fill="none"/><path d="M801,623.4 L811.0,630.9 L805.4,635.1Z" fill="#222"/>
<path d="M733.3,794.2 L699.6,750.6" stroke="#333" stroke-width="1.3" fill="none"/><path d="M692.3,741.1 L702.4,748.5 L696.9,752.7Z" fill="#222"/>
<path d="M418.6,798 L385.3,754.5" stroke="#333" stroke-width="1.3" fill="none"/><path d="M378,745 L388.1,752.4 L382.5,756.7Z" fill="#222"/>
</g></svg></body></html>
